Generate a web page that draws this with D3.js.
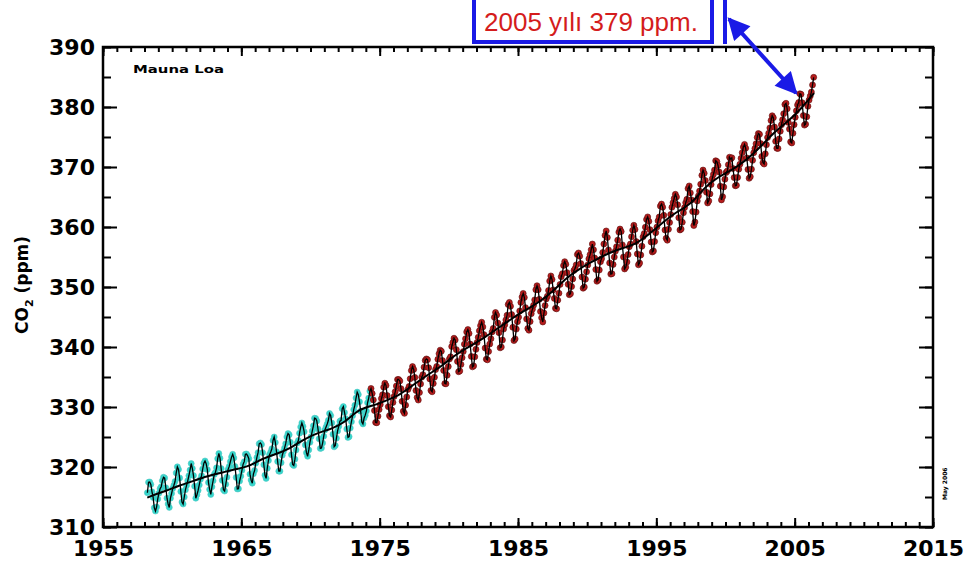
<!DOCTYPE html>
<html lang="tr">
<head>
<meta charset="UTF-8">
<title>Mauna Loa CO2</title>
<script src="https://cdn.jsdelivr.net/npm/d3@7"></script>
<style>
    body { margin: 0; background: #fff; }
    svg { display: block; }
</style>
</head>
<body>
<script>

    // MONTHLY CO2 (ppm), starting March 1958, one row per year
    const startYear = 1958
    const startMonth = 3
    const co2Monthly = [
        315.71, 317.45, 317.50, 317.10, 315.86, 314.93, 313.20, 312.66, 313.33, 314.67,
        315.62, 316.38, 316.71, 317.72, 318.29, 318.15, 316.54, 314.80, 313.84, 313.26, 314.80, 315.58,
        316.43, 316.97, 317.58, 319.02, 320.03, 319.59, 318.18, 315.91, 314.16, 313.83, 315.00, 316.19,
        316.93, 317.70, 318.54, 319.48, 320.58, 319.77, 318.57, 316.79, 314.80, 315.38, 316.10, 317.01,
        317.94, 318.56, 319.68, 320.63, 321.01, 320.55, 319.58, 317.40, 316.26, 315.42, 316.69, 317.69,
        318.74, 319.08, 319.86, 321.39, 322.25, 321.47, 319.74, 317.77, 316.21, 315.99, 317.12, 318.31,
        319.57, 320.10, 320.90, 321.65, 322.11, 321.51, 320.09, 318.27, 316.34, 316.37, 317.66, 318.47,
        319.44, 320.44, 320.89, 322.13, 322.16, 321.87, 321.39, 318.81, 317.81, 317.30, 318.87, 319.42,
        320.62, 321.59, 322.39, 323.87, 324.01, 323.75, 322.39, 320.37, 318.64, 318.10, 319.79, 321.08,
        322.07, 322.50, 323.04, 324.42, 325.00, 324.09, 322.55, 320.92, 319.31, 319.31, 320.72, 321.96,
        322.57, 323.15, 323.89, 325.02, 325.57, 325.36, 324.14, 322.03, 320.41, 320.25, 321.31, 322.84,
        324.00, 324.42, 325.64, 326.66, 327.34, 326.76, 325.88, 323.67, 322.38, 321.78, 322.85, 324.11,
        325.03, 325.99, 326.87, 328.13, 328.07, 327.66, 326.35, 324.69, 323.10, 323.16, 323.98, 325.13,
        326.17, 326.68, 327.18, 327.78, 328.92, 328.57, 327.34, 325.46, 323.36, 323.57, 324.80, 326.01,
        326.77, 327.63, 327.75, 329.72, 330.07, 329.09, 328.05, 326.32, 324.93, 325.06, 326.50, 327.55,
        328.54, 329.56, 330.30, 331.50, 332.48, 332.07, 330.87, 329.31, 327.51, 327.18, 328.16, 328.64,
        329.35, 330.71, 331.48, 332.65, 333.09, 332.25, 331.18, 329.40, 327.43, 327.37, 328.46, 329.57,
        330.40, 331.40, 332.04, 333.31, 333.96, 333.59, 331.91, 330.06, 328.56, 328.34, 329.49, 330.76,
        331.75, 332.56, 333.50, 334.58, 334.57, 334.34, 333.05, 330.94, 329.30, 328.94, 330.31, 331.68,
        332.93, 333.42, 334.70, 336.07, 336.74, 336.27, 334.93, 332.75, 331.59, 331.16, 332.40, 333.85,
        334.97, 335.39, 336.64, 337.76, 338.01, 337.89, 336.54, 334.68, 332.76, 332.54, 333.92, 334.95,
        336.23, 336.76, 337.96, 338.89, 339.47, 339.29, 337.73, 336.09, 333.91, 333.86, 335.29, 336.73,
        338.01, 338.36, 340.08, 340.77, 341.46, 341.17, 339.56, 337.60, 335.88, 336.01, 337.10, 338.21,
        339.23, 340.47, 341.38, 342.51, 342.91, 342.25, 340.49, 338.43, 336.69, 336.85, 338.36, 339.61,
        340.75, 341.61, 342.70, 343.56, 344.13, 343.35, 342.06, 339.82, 337.97, 337.86, 339.26, 340.49,
        341.38, 342.52, 343.10, 344.94, 345.75, 345.32, 343.99, 342.39, 339.86, 339.99, 341.16, 342.99,
        343.70, 344.51, 345.28, 347.08, 347.43, 346.79, 345.40, 343.28, 341.07, 341.35, 342.98, 344.22,
        344.97, 346.00, 347.43, 348.35, 348.93, 348.25, 346.56, 344.67, 343.09, 342.80, 344.24, 345.56,
        346.30, 346.95, 347.85, 349.55, 350.21, 349.55, 347.94, 345.91, 344.86, 344.17, 345.66, 346.90,
        348.02, 348.47, 349.42, 350.99, 351.84, 351.25, 349.52, 348.10, 346.44, 346.36, 347.81, 348.96,
        350.43, 351.72, 352.22, 353.59, 354.22, 353.79, 352.39, 350.44, 348.72, 348.88, 350.07, 351.34,
        352.76, 353.07, 353.68, 355.42, 355.67, 355.13, 353.90, 351.67, 349.80, 349.99, 351.30, 352.53,
        353.66, 354.70, 355.39, 356.20, 357.16, 356.22, 354.82, 352.91, 350.96, 351.18, 352.83, 354.21,
        354.72, 355.75, 357.16, 358.60, 359.34, 358.24, 356.17, 354.02, 352.15, 352.21, 353.75, 354.99,
        355.98, 356.72, 357.81, 359.15, 359.66, 359.25, 357.02, 355.00, 353.01, 353.31, 354.16, 355.40,
        356.70, 357.16, 358.38, 359.46, 360.28, 359.60, 357.57, 355.52, 353.70, 353.98, 355.33, 356.80,
        358.36, 358.91, 359.97, 361.26, 361.68, 360.95, 359.55, 357.49, 355.84, 356.00, 357.59, 359.05,
        359.98, 361.03, 361.66, 363.48, 363.82, 363.30, 361.94, 359.50, 358.11, 357.80, 359.61, 360.74,
        362.09, 363.29, 364.06, 364.76, 365.45, 365.01, 363.70, 361.54, 359.51, 359.65, 360.80, 362.38,
        363.23, 364.06, 364.61, 366.40, 366.84, 365.68, 364.52, 362.57, 360.24, 360.83, 362.49, 364.34,
        365.18, 365.98, 367.13, 368.61, 369.49, 368.95, 367.74, 365.79, 364.01, 364.35, 365.52, 367.08,
        368.05, 368.77, 369.49, 371.04, 370.90, 370.25, 369.17, 366.81, 364.52, 365.05, 366.67, 367.97,
        369.07, 369.32, 370.38, 371.63, 371.32, 371.53, 369.75, 368.23, 366.87, 366.94, 368.27, 369.64,
        370.47, 371.44, 372.39, 373.32, 373.77, 373.13, 371.51, 369.59, 368.12, 368.38, 369.64, 371.11,
        372.38, 373.08, 373.87, 374.93, 375.58, 375.44, 373.91, 371.77, 370.72, 370.50, 372.19, 373.71,
        374.92, 375.63, 376.51, 377.75, 378.54, 378.21, 376.65, 374.28, 373.12, 373.10, 374.67, 375.97,
        377.03, 377.87, 378.88, 380.42, 380.62, 379.70, 377.43, 376.32, 374.19, 374.01, 375.62, 377.06,
        378.29, 379.37, 380.34, 380.74, 382.20, 382.12, 380.71, 378.57, 376.98, 377.14, 378.38, 380.13,
        381.15, 381.82, 382.48, 383.68, 384.95
    ]

    // SMOOTHED TREND (decimal year, ppm)
    const trendYears = [1958.2, 1958.5, 1959.5, 1960.5, 1961.5, 1962.5, 1963.5, 1964.5, 1965.5, 1966.5, 1967.5,
        1968.5, 1969.5, 1970.5, 1971.5, 1972.5, 1973.5, 1974.5, 1975.5, 1976.5, 1977.5, 1978.5, 1979.5,
        1980.5, 1981.5, 1982.5, 1983.5, 1984.5, 1985.5, 1986.5, 1987.5, 1988.5, 1989.5, 1990.5, 1991.5,
        1992.5, 1993.5, 1994.5, 1995.5, 1996.5, 1997.5, 1998.5, 1999.5, 2000.5, 2001.5, 2002.5, 2003.5,
        2004.5, 2005.5, 2006.4]
    const trendValues = [314.9, 315.2, 315.97, 316.91, 317.64, 318.45, 318.99, 319.62, 320.04, 321.38, 322.16,
        323.04, 324.62, 325.68, 326.32, 327.45, 329.68, 330.18, 331.11, 332.04, 333.83, 335.40, 336.84,
        338.75, 340.11, 341.45, 343.05, 344.65, 346.12, 347.42, 349.19, 351.57, 353.12, 354.39, 355.61,
        356.45, 357.10, 358.83, 360.82, 362.61, 363.73, 366.70, 368.38, 369.55, 371.14, 373.28, 375.80,
        377.52, 379.80, 382.3]

    // AXIS TICKS
    const xMajor = [1955, 1965, 1975, 1985, 1995, 2005, 2015]
    const yMajor = [310, 320, 330, 340, 350, 360, 370, 380, 390]
    const cyanUntil = 1974.35

    const monthly = co2Monthly.map((v, i) => {
        const m = startMonth - 1 + i
        return {t: startYear + Math.floor(m / 12) + (m % 12 + 0.5) / 12, v: v}
    })
    const trend = trendYears.map((t, i) => ({t: t, v: trendValues[i]}))

    const W = 964, H = 562
    const svg = d3.select("body").append("svg").attr("width", W).attr("height", H)

    // SCALES
    const x = d3.scaleLinear().domain([1955, 2015]).range([103, 933])
    const y = d3.scaleLinear().domain([310, 390]).range([527, 47])
    const xMinor = d3.range(1955, 2016, 1)
    const yMinor = d3.range(310, 391, 5)

    const tickFont = "'DejaVu Sans', sans-serif"

    function style(g) {
        g.select(".domain").remove()
        g.selectAll("line").attr("stroke", "#000").attr("stroke-width", 2)
    }

    // MINOR TICKS (all four sides)
    svg.append("g").attr("transform", "translate(0,527)")
        .call(d3.axisBottom(x).tickValues(xMinor).tickSize(-5).tickFormat("")).call(style)
    svg.append("g").attr("transform", "translate(0,47)")
        .call(d3.axisTop(x).tickValues(xMinor).tickSize(-5).tickFormat("")).call(style)
    svg.append("g").attr("transform", "translate(103,0)")
        .call(d3.axisLeft(y).tickValues(yMinor).tickSize(-8).tickFormat("")).call(style)
    svg.append("g").attr("transform", "translate(933,0)")
        .call(d3.axisRight(y).tickValues(yMinor).tickSize(-8).tickFormat("")).call(style)

    // MAJOR TICKS + LABELS
    const xb = svg.append("g").attr("transform", "translate(0,527)")
        .call(d3.axisBottom(x).tickValues(xMajor).tickSize(-9).tickPadding(13).tickFormat(d3.format("d")))
    xb.call(style)
    svg.append("g").attr("transform", "translate(0,47)")
        .call(d3.axisTop(x).tickValues(xMajor).tickSize(-9).tickFormat("")).call(style)
    const yl = svg.append("g").attr("transform", "translate(103,0)")
        .call(d3.axisLeft(y).tickValues(yMajor).tickSize(-14).tickPadding(8).tickFormat(d3.format("d")))
    yl.call(style)
    svg.append("g").attr("transform", "translate(933,0)")
        .call(d3.axisRight(y).tickValues(yMajor).tickSize(-14).tickFormat("")).call(style)

    svg.selectAll("g text")
        .style("font-family", tickFont).style("font-size", "22px").style("font-weight", "bold")
        .attr("fill", "#000")

    // FRAME
    svg.append("rect").attr("x", 103).attr("y", 47).attr("width", 830).attr("height", 480)
        .attr("fill", "none").attr("stroke", "#000").attr("stroke-width", 2.5)

    // MARKERS
    svg.append("g").selectAll("circle").data(monthly).join("circle")
        .attr("cx", d => x(d.t)).attr("cy", d => y(d.v)).attr("r", 3)
        .attr("fill", d => d.t < cyanUntil ? "#34d6cc" : "#b51c1c")
        .attr("stroke", d => d.t < cyanUntil ? "#52c8c2" : "#5a0c0c")
        .attr("stroke-width", 0.6)

    // MONTHLY LINE
    const line = d3.line().x(d => x(d.t)).y(d => y(d.v))
    svg.append("path").datum(monthly).attr("d", line)
        .attr("fill", "none").attr("stroke", "#000").attr("stroke-width", 1.3)

    // TREND LINE
    svg.append("path").datum(trend).attr("d", line.curve(d3.curveBasis))
        .attr("fill", "none").attr("stroke", "#000").attr("stroke-width", 2)

    // LABELS
    svg.append("text").attr("x", 133).attr("y", 73).text("Mauna Loa")
        .attr("textLength", 91).attr("lengthAdjust", "spacingAndGlyphs")
        .style("font-family", tickFont).style("font-size", "11px").style("font-weight", "bold")

    const yt = svg.append("text").attr("transform", "translate(28,285) rotate(-90)")
        .attr("text-anchor", "middle")
        .style("font-family", tickFont).style("font-size", "17px").style("font-weight", "bold")
    yt.append("tspan").text("CO")
    yt.append("tspan").text("2").attr("dy", 5).style("font-size", "11px")
    yt.append("tspan").text(" (ppm)").attr("dy", -5)

    svg.append("text").attr("transform", "translate(947,500) rotate(-90)")
        .text("May 2006")
        .style("font-family", tickFont).style("font-size", "6px").style("font-weight", "bold")

    // ANNOTATION
    const blue = "#1a1ae6"
    svg.append("rect").attr("x", 474).attr("y", -4).attr("width", 238).attr("height", 46)
        .attr("fill", "#fff").attr("stroke", blue).attr("stroke-width", 4)
    svg.append("text").attr("x", 484).attr("y", 31).text("2005 yılı 379 ppm.")
        .attr("fill", "#d41c1c")
        .style("font-family", "'Liberation Sans', Arial, sans-serif").style("font-size", "26px")
    svg.append("line").attr("x1", 725).attr("x2", 725).attr("y1", 0).attr("y2", 44)
        .attr("stroke", blue).attr("stroke-width", 4)

    const defs = svg.append("defs")
    defs.append("marker").attr("id", "ah").attr("viewBox", "0 0 10 10")
        .attr("refX", 9).attr("refY", 5).attr("markerWidth", 6).attr("markerHeight", 5.5)
        .attr("orient", "auto-start-reverse").attr("markerUnits", "strokeWidth")
        .append("path").attr("d", "M0,0 L10,5 L0,10 z").attr("fill", blue)
    svg.append("line").attr("x1", 729).attr("y1", 19).attr("x2", 796).attr("y2", 93)
        .attr("stroke", blue).attr("stroke-width", 4)
        .attr("marker-start", "url(#ah)").attr("marker-end", "url(#ah)")

</script>
</body>
</html>
